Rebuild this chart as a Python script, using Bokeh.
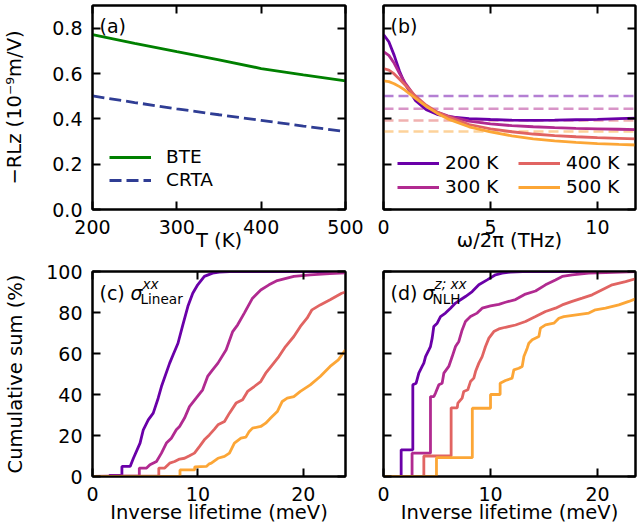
from bokeh.plotting import figure
from bokeh.models import (Range1d, FixedTicker, LinearAxis, Legend, LegendItem,
                          Label, PrintfTickFormatter)
from bokeh.layouts import gridplot
from bokeh.embed import file_html
from bokeh.resources import INLINE

FONT = "DejaVu Sans"
TICK_FS = "19px"
LABEL_FS = "19.5px"
SMALL_FS = "13.6px"
LEG_FS = "18.5px"

# ---------------- data ----------------
# (a) response vs temperature
temps_a = [200, 250, 300, 350, 400, 450, 500]
bte_a = [0.772, 0.733, 0.696, 0.660, 0.622, 0.594, 0.567]
crta_a = [0.501, 0.472, 0.444, 0.418, 0.393, 0.368, 0.344]

# (b) frequency dependence
omega = [0, 0.25, 0.5, 0.75, 1.0, 1.5, 2.0, 2.5, 3, 4, 5, 6, 7, 8, 9, 10, 11, 12]
rl_200 = [0.772, 0.74, 0.68, 0.61, 0.555, 0.48, 0.44, 0.42, 0.41, 0.401, 0.397, 0.394, 0.393, 0.394, 0.396, 0.398, 0.401, 0.404]
rl_300 = [0.696, 0.68, 0.645, 0.60, 0.56, 0.495, 0.455, 0.43, 0.413, 0.39, 0.378, 0.37, 0.365, 0.361, 0.358, 0.356, 0.354, 0.352]
rl_400 = [0.622, 0.615, 0.598, 0.575, 0.55, 0.50, 0.46, 0.43, 0.41, 0.375, 0.356, 0.343, 0.333, 0.326, 0.321, 0.317, 0.314, 0.311]
rl_500 = [0.567, 0.564, 0.555, 0.542, 0.527, 0.49, 0.455, 0.425, 0.40, 0.365, 0.342, 0.325, 0.312, 0.303, 0.296, 0.291, 0.287, 0.284]
crta_levels = [0.501, 0.444, 0.393, 0.344]
temp_labels = ["200 K", "300 K", "400 K", "500 K"]
temp_colors = ["#6a00a8", "#b12a90", "#e16462", "#fca636"]

# (c) cumulative sum, linear conductivity
lin_x_200 = [0, 1.6, 1.6, 2.79, 2.79, 3.57, 3.88, 4.51, 4.82, 5.29, 5.76, 6.23, 6.54, 7.32, 7.64, 8.11, 8.57, 9.05, 9.51, 9.98, 10.61, 11.39, 12.02, 13.0, 16.0, 24.0]
lin_y_200 = [0, 0, 0.5, 0.5, 4.9, 4.9, 8.9, 16.3, 22.8, 27.6, 30.9, 38.2, 43.9, 55.3, 59.3, 65.0, 74.0, 83.0, 89.4, 93.5, 97.6, 99.2, 99.7, 99.9, 100, 100]
lin_x_300 = [0, 4.44, 4.44, 5.13, 5.45, 6.07, 6.54, 7.01, 7.48, 7.95, 8.26, 8.73, 9.2, 9.83, 10.45, 10.92, 11.39, 11.9, 12.68, 13.3, 13.77, 14.4, 15.18, 15.96, 16.74, 17.53, 19.1, 20.66, 22.5, 24.0]
lin_y_300 = [0, 0.3, 4.1, 4.1, 5.7, 7.3, 11.4, 16.3, 18.7, 22.8, 24.4, 28.5, 34.1, 38.2, 42.3, 48.8, 52.0, 55.3, 61.8, 70.7, 74.0, 79.7, 87.0, 91.0, 93.5, 95.6, 97.6, 98.4, 99.0, 99.3]
lin_x_400 = [0, 6.29, 6.29, 6.85, 7.32, 7.79, 8.26, 8.73, 9.2, 9.67, 10.14, 10.61, 11.08, 11.55, 11.9, 12.52, 12.99, 13.62, 14.24, 14.71, 15.34, 15.96, 16.43, 17.06, 17.68, 18.31, 19.1, 19.72, 20.35, 20.82, 21.6, 22.54, 23.64, 24.0]
lin_y_400 = [0, 0.3, 4.1, 4.1, 6.5, 7.3, 8.5, 8.9, 10.1, 11.4, 14.6, 17.9, 20.3, 23.0, 25.2, 26.8, 30.9, 35.8, 37.4, 41.5, 43.9, 46.3, 50.4, 54.5, 58.5, 63.4, 68.3, 73.2, 77.2, 81.3, 83.7, 86.2, 89.4, 90.0]
lin_x_500 = [0, 8.3, 8.3, 9.7, 9.7, 10.8, 11.08, 11.27, 11.9, 12.52, 12.99, 13.46, 14.08, 14.55, 14.87, 15.18, 15.96, 16.43, 16.9, 17.53, 18.0, 18.47, 19.1, 19.72, 20.66, 21.6, 22.54, 23.32, 24.0]
lin_y_500 = [0, 0, 3.2, 3.2, 4.7, 4.9, 6.2, 6.5, 8.9, 9.8, 11.4, 16.3, 18.7, 19.2, 22.0, 23.6, 24.4, 26.0, 28.5, 31.7, 36.6, 38.2, 39.0, 41.5, 44.7, 48.8, 53.7, 56.9, 61.8]

# (d) cumulative sum, nonlinear Hall conductivity
nlh_x_200 = [0, 1.65, 1.65, 2.74, 2.74, 3.05, 3.3, 3.61, 3.77, 3.93, 4.24, 4.39, 4.55, 4.7, 5.02, 5.33, 5.79, 6.26, 6.73, 7.2, 7.66, 8.29, 8.91, 9.69, 10.47, 11.09, 11.87, 13.0, 24.0]
nlh_y_200 = [0, 0, 13.0, 13.0, 44.7, 45.5, 50.4, 53.7, 55.3, 58.5, 61.8, 63.4, 67.5, 73.2, 74.8, 78.0, 79.7, 82.1, 84.6, 86.2, 87.8, 90.2, 93.5, 95.9, 98.4, 99.2, 99.7, 100, 100]
nlh_x_300 = [0, 2.67, 2.67, 4.39, 4.39, 4.7, 4.86, 5.17, 5.48, 5.64, 6.1, 6.42, 6.73, 7.04, 7.35, 7.66, 8.13, 8.75, 9.22, 10.0, 10.78, 11.4, 12.34, 13.27, 14.21, 15.14, 16.07, 16.7, 17.63, 19.19, 20.75, 23.71, 24.0]
nlh_y_300 = [0, 0, 11.4, 11.4, 39.0, 39.0, 40.7, 44.7, 45.5, 50.4, 53.7, 58.5, 63.4, 65.9, 71.5, 75.6, 78.0, 79.7, 82.1, 83.2, 84.0, 85.0, 86.3, 89.0, 90.5, 93.5, 95.9, 97.6, 98.4, 99.2, 99.5, 100, 100]
nlh_x_400 = [0, 3.77, 3.77, 6.32, 6.32, 6.89, 6.95, 7.35, 7.5, 7.88, 8.13, 8.44, 8.6, 8.91, 9.22, 9.53, 9.85, 10.31, 10.78, 11.4, 12.34, 13.27, 14.21, 15.14, 16.07, 16.7, 17.63, 18.57, 19.5, 20.44, 21.37, 22.62, 23.71, 24.0]
nlh_y_400 = [0, 0, 10.0, 10.0, 33.5, 33.5, 35.8, 38.2, 41.5, 42.3, 46.3, 48.0, 51.2, 55.3, 58.5, 63.4, 67.5, 70.7, 72.0, 72.8, 73.9, 75.6, 78.0, 80.5, 82.1, 83.7, 85.4, 87.0, 88.6, 91.1, 93.5, 95.1, 96.7, 97.0]
nlh_x_500 = [0, 4.95, 4.95, 8.3, 8.3, 10.0, 10.0, 10.9, 10.9, 11.4, 12.02, 12.18, 12.65, 12.96, 13.12, 13.43, 13.58, 13.9, 14.52, 14.67, 15.14, 15.92, 16.39, 16.85, 19.19, 19.81, 20.75, 21.99, 22.93, 23.71, 24.0]
nlh_y_500 = [0, 0, 9.2, 9.2, 33.3, 33.3, 40.0, 40.0, 45.5, 46.8, 48.0, 52.0, 52.8, 53.7, 58.5, 62.6, 65.0, 66.7, 68.3, 72.4, 74.0, 74.8, 77.2, 78.0, 79.7, 81.3, 82.1, 83.7, 85.4, 87.0, 87.5]

ticks_a_x = [200, 300, 400, 500]
ticks_rl_y = [0.0, 0.2, 0.4, 0.6, 0.8]
ticks_b_x = [0, 5, 10]
ticks_cd_x = [0, 10, 20]
ticks_cd_y = [0, 20, 40, 60, 80, 100]

xlabel_a = "T (K)"
xlabel_b = "\u03c9/2\u03c0 (THz)"
xlabel_cd = "Inverse lifetime (meV)"
ylabel_a = "\u2212RLz (10\u207b\u2079m/V)"
ylabel_c = "Cumulative sum (%)"


# ---------------- helpers ----------------
def style_axis(ax, ticks, show_labels, fmt=None, standoff=10):
    ax.ticker = FixedTicker(ticks=ticks)
    ax.axis_line_color = "black"
    ax.axis_line_width = 2
    ax.major_tick_in = 8
    ax.major_tick_out = 0
    ax.major_tick_line_width = 2
    ax.major_tick_line_color = "black"
    ax.minor_tick_line_color = None
    ax.major_label_text_font = FONT
    ax.axis_label_text_font = FONT
    ax.axis_label_text_font_size = LABEL_FS
    ax.axis_label_text_font_style = "normal"
    ax.axis_label_text_color = "black"
    if fmt is not None:
        ax.formatter = fmt
    if show_labels:
        ax.major_label_text_font_size = TICK_FS
        ax.major_label_text_color = "black"
        ax.major_label_standoff = standoff
    else:
        ax.major_label_text_font_size = "1px"
        ax.major_label_text_alpha = 0
        ax.major_label_text_color = None
        ax.major_label_standoff = 0


def make_fig(xr, yr, width, height, borders):
    l, r, t, b = borders
    p = figure(width=width, height=height, x_range=Range1d(*xr), y_range=Range1d(*yr),
               output_backend="svg", toolbar_location=None,
               min_border_left=l, min_border_right=r, min_border_top=t, min_border_bottom=b)
    p.xgrid.visible = False
    p.ygrid.visible = False
    p.outline_line_color = "black"
    p.outline_line_width = 2
    p.outline_line_alpha = 1
    p.background_fill_color = "white"
    p.border_fill_color = "white"
    return p


def finish_axes(p, xticks, yticks, show_y, xlabel, xstand, yfmt=None, ylabel=None, ystand=13):
    style_axis(p.xaxis[0], xticks, True, standoff=10)
    p.xaxis[0].axis_label = xlabel
    p.xaxis[0].axis_label_standoff = xstand
    style_axis(p.yaxis[0], yticks, show_y, yfmt, standoff=10)
    if ylabel is not None:
        p.yaxis[0].axis_label = ylabel
        p.yaxis[0].axis_label_standoff = ystand
    top = LinearAxis()
    style_axis(top, xticks, False)
    p.add_layout(top, "above")
    right = LinearAxis()
    style_axis(right, yticks, False)
    p.add_layout(right, "right")


def tag(p, x, y, text, dx, dy, size="19px", style="normal"):
    p.add_layout(Label(x=x, y=y, x_offset=dx, y_offset=dy, text=text,
                       text_font=FONT, text_font_size=size, text_font_style=style,
                       text_color="black", text_baseline="alphabetic", text_align="left"))


def add_legend(p, items, loc, standoff, spacing):
    leg = Legend(items=items, location=loc, orientation="vertical",
                 glyph_width=42, glyph_height=20, label_height=20,
                 label_standoff=standoff, spacing=spacing, padding=0, margin=0,
                 border_line_color=None, background_fill_alpha=0,
                 label_text_font=FONT, label_text_font_size=LEG_FS,
                 label_text_color="black")
    p.add_layout(leg)


LW = 2.8
TOP_H, BOT_H = 254, 275
LEFT_W, RIGHT_W = 364, 273

# ---------------- (a) ----------------
pa = make_fig((200, 500), (0, 0.9), LEFT_W, TOP_H, (90, 19, 5, 44))
r_bte = pa.line(temps_a, bte_a, line_color="#008000", line_width=LW)
r_crta = pa.line(temps_a, crta_a, line_color="#2f3d94", line_width=LW, line_dash="12 5")
finish_axes(pa, ticks_a_x, ticks_rl_y, True, xlabel_a, -8,
            PrintfTickFormatter(format="%.1f"), ylabel_a, 23)
add_legend(pa, [LegendItem(label="BTE", renderers=[r_bte]),
                LegendItem(label="CRTA", renderers=[r_crta])], (17, 19), 15, 2)
tag(pa, 200, 0.9, "(a)", 7, -20)

# ---------------- (b) ----------------
pb = make_fig((0, 11.78), (0, 0.9), RIGHT_W, TOP_H, (19, 2, 5, 44))
for lvl, c in zip(crta_levels, temp_colors):
    pb.line([omega[0], omega[-1]], [lvl, lvl], line_color=c, line_alpha=0.5,
            line_width=2.5, line_dash="10 5")
rb = []
for ys, c in zip([rl_200, rl_300, rl_400, rl_500], temp_colors):
    rb.append(pb.line(omega, ys, line_color=c, line_width=LW))
finish_axes(pb, ticks_b_x, ticks_rl_y, False, xlabel_b, -8)
add_legend(pb, [LegendItem(label=temp_labels[0], renderers=[rb[0]]),
                LegendItem(label=temp_labels[1], renderers=[rb[1]])], (14, 12), 6, 3)
add_legend(pb, [LegendItem(label=temp_labels[2], renderers=[rb[2]]),
                LegendItem(label=temp_labels[3], renderers=[rb[3]])], (135, 12), 6, 3)
tag(pb, 0, 0.9, "(b)", 7, -20)

# ---------------- (c) ----------------
pc = make_fig((0, 24), (0, 100), LEFT_W, BOT_H, (90, 19, 17, 53))
for xs, ys, c in zip([lin_x_200, lin_x_300, lin_x_400, lin_x_500],
                     [lin_y_200, lin_y_300, lin_y_400, lin_y_500], temp_colors):
    pc.line(xs, ys, line_color=c, line_width=LW)
finish_axes(pc, ticks_cd_x, ticks_cd_y, True, xlabel_cd, -3, ylabel=ylabel_c, ystand=16)
tag(pc, 0, 100, "(c)", 7, -21)
tag(pc, 0, 100, "\u03c3", 38, -21, style="italic")
tag(pc, 0, 100, "xx", 50, -12, size=SMALL_FS, style="italic")
tag(pc, 0, 100, "Linear", 48, -27, size=SMALL_FS)

# ---------------- (d) ----------------
pd_ = make_fig((0, 23.55), (0, 100), RIGHT_W, BOT_H, (19, 2, 17, 53))
for xs, ys, c in zip([nlh_x_200, nlh_x_300, nlh_x_400, nlh_x_500],
                     [nlh_y_200, nlh_y_300, nlh_y_400, nlh_y_500], temp_colors):
    pd_.line(xs, ys, line_color=c, line_width=LW)
finish_axes(pd_, ticks_cd_x, ticks_cd_y, False, xlabel_cd, -3)
tag(pd_, 0, 100, "(d)", 7, -21)
tag(pd_, 0, 100, "\u03c3", 39, -21, style="italic")
tag(pd_, 0, 100, "z; xx", 51, -12, size=SMALL_FS, style="italic")
tag(pd_, 0, 100, "NLH", 49, -27, size=SMALL_FS)

grid = gridplot([[pa, pb], [pc, pd_]], toolbar_location=None)

open("out.html", "w").write(file_html(grid, INLINE))
